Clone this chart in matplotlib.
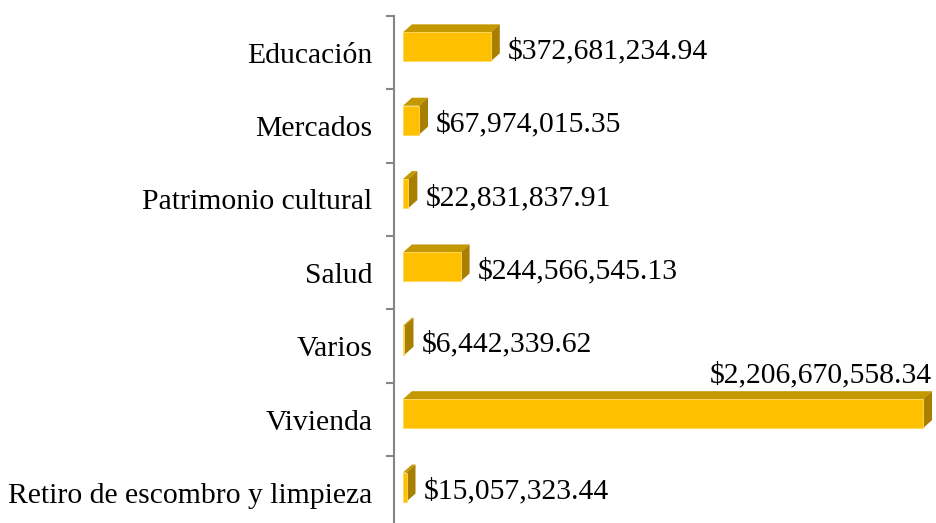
import numpy as np
import matplotlib.pyplot as plt
from matplotlib.patches import Polygon

categories = ['Educación', 'Mercados', 'Patrimonio cultural', 'Salud', 'Varios',
              'Vivienda', 'Retiro de escombro y limpieza']
values = [372681234.94, 67974015.35, 22831837.91, 244566545.13, 6442339.62,
          2206670558.34, 15057323.44]

front_color = '#FFC000'
top_color = '#C49800'
side_color = '#A87F00'

plt.rcParams['font.family'] = ['Liberation Serif', 'DejaVu Serif']
fs = 21.3

fig = plt.figure(figsize=(9.37, 5.23), dpi=100)
ax = fig.add_axes([0.421, 0.0, 0.579, 0.9694])

ypos = np.arange(len(categories))
bar_h = 0.395
shift = -0.08          # bar front sits a little above the category centre
dx = 38.2e6            # depth of the fake 3-D extrusion, in data units
dy = 0.109

for y, v in zip(ypos, values):
    c = y + shift
    top = c - bar_h / 2
    bot = c + bar_h / 2
    ax.barh(c, v, height=bar_h, left=0, color=front_color,
            edgecolor='#FFD75A', linewidth=0.6, zorder=3)
    ax.add_patch(Polygon([(0, top), (dx, top - dy), (v + dx, top - dy), (v, top)],
                         closed=True, facecolor=top_color, edgecolor='none', zorder=2))
    ax.add_patch(Polygon([(v, top), (v + dx, top - dy), (v + dx, bot - dy), (v, bot)],
                         closed=True, facecolor=side_color, edgecolor='none', zorder=2))

    label = '${:,.2f}'.format(v)
    if v == max(values):
        ax.annotate(label, xy=(v + dx, top - dy), xytext=(0, 9), textcoords='offset pixels',
                    ha='right', va='baseline', fontsize=fs, color='black')
    else:
        ax.annotate(label, xy=(v + dx, bot), xytext=(8, 3), textcoords='offset pixels',
                    ha='left', va='baseline', fontsize=fs, color='black')

ax.set_xlim(-36e6, 2.266e9)
ax.set_ylim(6.41, -0.5)

ax.set_yticks(ypos)
ax.set_yticklabels(categories, fontsize=fs)
ax.tick_params(axis='y', which='major', length=0, pad=16)
ax.set_yticks(np.arange(-0.5, 6.0, 1.0), minor=True)
ax.tick_params(axis='y', which='minor', length=6, width=1.5, color='#868686')
ax.set_xticks([])

for s in ['top', 'right', 'bottom']:
    ax.spines[s].set_visible(False)
ax.spines['left'].set_color('#868686')
ax.spines['left'].set_linewidth(1.5)

fig.savefig('out.png', dpi=100)
